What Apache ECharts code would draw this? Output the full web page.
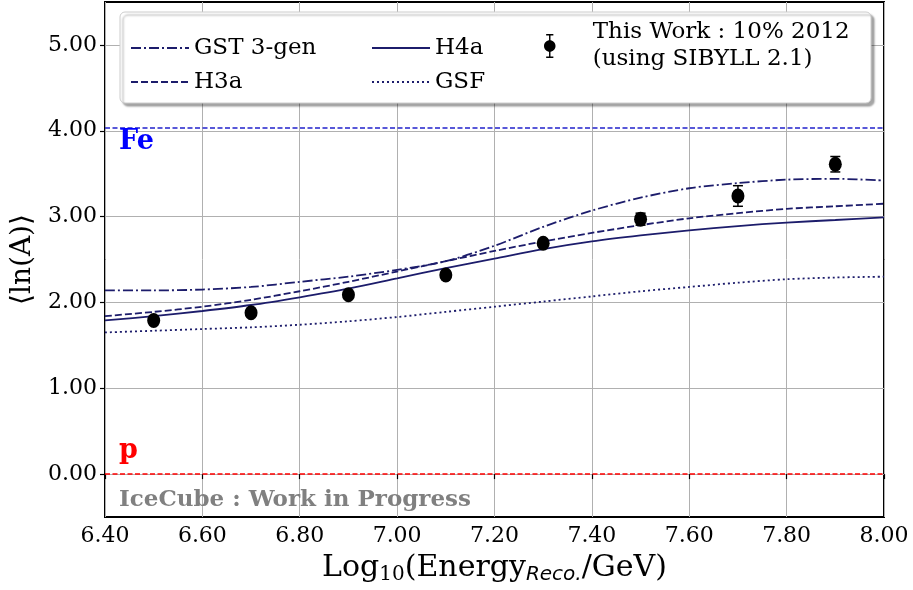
<!DOCTYPE html>
<html>
<head>
<meta charset="utf-8">
<script src="https://cdn.jsdelivr.net/npm/echarts@6/dist/echarts.min.js"></script>
<style>
  html, body { margin: 0; padding: 0; background: #fff; }
  #chart { width: 913px; height: 590px; }
</style>
</head>
<body>
<div id="chart"></div>
<script>
// model curves, sampled every 0.1 in log10(E)
const modelX = [6.4, 6.5, 6.6, 6.7, 6.8, 6.9, 7.0, 7.1, 7.2, 7.3, 7.4, 7.5, 7.6, 7.7, 7.8, 7.9, 8.0]
const gst3gen = [2.14, 2.14, 2.15, 2.18, 2.24, 2.30, 2.38, 2.48, 2.66, 2.88, 3.07, 3.22, 3.33, 3.39, 3.43, 3.44, 3.42]
const h3a = [1.84, 1.89, 1.95, 2.03, 2.13, 2.24, 2.36, 2.48, 2.60, 2.71, 2.81, 2.90, 2.98, 3.04, 3.09, 3.12, 3.15]
const h4a = [1.79, 1.84, 1.90, 1.97, 2.06, 2.16, 2.28, 2.40, 2.51, 2.62, 2.71, 2.78, 2.84, 2.89, 2.93, 2.96, 2.99]
const gsf = [1.65, 1.67, 1.69, 1.71, 1.74, 1.78, 1.83, 1.89, 1.95, 2.01, 2.07, 2.13, 2.18, 2.23, 2.27, 2.29, 2.30]

// measurement
const dataX = [6.5, 6.7, 6.9, 7.1, 7.3, 7.5, 7.7, 7.9]
const dataY = [1.79, 1.88, 2.09, 2.32, 2.69, 2.97, 3.24, 3.61]
const dataErr = [0.03, 0.03, 0.03, 0.04, 0.04, 0.07, 0.12, 0.09]

const feLevel = 4.03
const pLevel = 0
const yTicks = [0, 1, 2, 3, 4, 5]

const navy = '#1c1c6b'
const serif = 'DejaVu Serif'
const dataName = 'This Work : 10% 2012\n(using SIBYLL 2.1)'

const pair = (xs, ys) => xs.map((x, i) => [x, ys[i]])

const chart = echarts.init(document.getElementById('chart'))

function lineSeries(name, values, dash) {
  return {
    name: name,
    type: 'line',
    data: pair(modelX, values),
    smooth: 0.3,
    symbol: 'none',
    z: 3,
    lineStyle: { color: navy, width: 1.8, type: dash },
    itemStyle: { color: navy }
  }
}

const legendText = { fontFamily: serif, fontSize: 23, color: '#000', lineHeight: 24 }
// hide the symbol ECharts puts in the middle of line legend icons
const noDot = { color: 'rgba(0,0,0,0)', borderWidth: 0 }

const option = {
  animation: false,
  grid: {
    left: 105, right: 29, top: 2, bottom: 73,
    outerBoundsMode: 'none',
    show: true, borderColor: '#000', borderWidth: 2
  },
  xAxis: {
    type: 'value',
    min: 6.4,
    max: 8.0,
    interval: 0.2,
    name: '{a|Log}{s|10}{a|(Energy}{i|Reco.}{a|/GeV)}',
    nameLocation: 'middle',
    nameGap: 31,
    nameTextStyle: {
      rich: {
        a: { fontFamily: serif, fontSize: 30, color: '#000', lineHeight: 36 },
        s: { fontFamily: serif, fontSize: 20, color: '#000', lineHeight: 36, padding: [13, 0, 0, 0] },
        i: { fontFamily: 'DejaVu Sans', fontStyle: 'italic', fontSize: 20, color: '#000', lineHeight: 36, padding: [13, 0, 0, 0] }
      }
    },
    axisLine: { show: false },
    axisTick: { show: true, length: 5, lineStyle: { color: '#000', width: 1.2 } },
    axisLabel: { fontFamily: serif, fontSize: 22, color: '#000', margin: 8, formatter: v => v.toFixed(2) },
    splitLine: { show: true, lineStyle: { color: '#b0b0b0', width: 1 } }
  },
  yAxis: {
    type: 'value',
    min: -0.5,
    max: 5.5,
    splitNumber: 6,
    name: '⟨ln(A)⟩',
    nameLocation: 'middle',
    nameGap: 64,
    nameTextStyle: { fontFamily: serif, fontSize: 28, color: '#000' },
    axisLine: { show: false },
    axisTick: { show: true, length: 5, customValues: yTicks, lineStyle: { color: '#000', width: 1.2 } },
    axisLabel: {
      fontFamily: serif, fontSize: 22, color: '#000', margin: 8,
      customValues: yTicks,
      formatter: v => v.toFixed(2)
    },
    splitLine: { show: true, lineStyle: { color: '#b0b0b0', width: 1 } }
  },
  legend: [
    {
      left: 125, top: 31, orient: 'vertical', itemWidth: 58, itemHeight: 14, itemGap: 10,
      textStyle: legendText, z: 20, selectedMode: false, itemStyle: noDot,
      data: ['GST 3-gen', 'H3a']
    },
    {
      left: 366, top: 31, orient: 'vertical', itemWidth: 58, itemHeight: 14, itemGap: 10,
      textStyle: legendText, z: 20, selectedMode: false, itemStyle: noDot,
      data: ['H4a', 'GSF']
    },
    {
      left: 539, top: 14, orient: 'vertical', itemWidth: 22, itemHeight: 24,
      textStyle: Object.assign({}, legendText, { lineHeight: 27, padding: [0, 0, 0, 27] }),
      z: 20, selectedMode: false,
      data: [{
        name: dataName,
        icon: 'path://M7,0h6v1.2h-6z M9.4,0h1.2v20h-1.2z M7,18.8h6v1.2h-6z M10,5.2c2.7,0,4.8,2.1,4.8,4.8s-2.1,4.8-4.8,4.8s-4.8-2.1-4.8-4.8s2.1-4.8,4.8-4.8z',
        itemStyle: { color: '#000' }
      }]
    }
  ],
  graphic: [
    {
      type: 'rect', z: 10,
      shape: { x: 120, y: 12, width: 751, height: 91, r: 5 },
      style: { fill: '#fff', stroke: '#cccccc', lineWidth: 1, shadowBlur: 2, shadowOffsetX: 3, shadowOffsetY: 3, shadowColor: 'rgba(0,0,0,0.35)' }
    },
    { type: 'text', left: 119, top: 128, z: 10, style: { text: 'Fe', fill: '#0000ff', font: 'bold 27px "DejaVu Serif"' } },
    { type: 'text', left: 119, top: 437, z: 10, style: { text: 'p', fill: '#ff0000', font: 'bold 27px "DejaVu Serif"' } },
    { type: 'text', left: 119, top: 489, z: 10, style: { text: 'IceCube : Work in Progress', fill: '#808080', font: 'bold 23px "DejaVu Serif"' } }
  ],
  series: [
    lineSeries('GST 3-gen', gst3gen, [10, 3, 2, 3]),
    lineSeries('H3a', h3a, [7, 3]),
    lineSeries('H4a', h4a, 'solid'),
    lineSeries('GSF', gsf, [2, 3]),
    {
      name: 'levels',
      type: 'line',
      data: [],
      silent: true,
      markLine: {
        symbol: 'none',
        label: { show: false },
        silent: true,
        data: [
          { yAxis: feLevel, lineStyle: { color: '#2222cc', type: [5, 2.5], width: 1.5 } },
          { yAxis: pLevel, lineStyle: { color: '#ff0000', type: [5, 2.5], width: 1.5 } }
        ]
      }
    },
    {
      name: 'errors',
      type: 'custom',
      z: 4,
      data: dataX.map((x, i) => [x, dataY[i] - dataErr[i], dataY[i] + dataErr[i]]),
      renderItem: function (params, api) {
        const lo = api.coord([api.value(0), api.value(1)])
        const hi = api.coord([api.value(0), api.value(2)])
        const cap = 5
        const st = { stroke: '#000', lineWidth: 1.5 }
        return {
          type: 'group',
          children: [
            { type: 'line', shape: { x1: lo[0], y1: lo[1], x2: hi[0], y2: hi[1] }, style: st },
            { type: 'line', shape: { x1: lo[0] - cap, y1: lo[1], x2: lo[0] + cap, y2: lo[1] }, style: st },
            { type: 'line', shape: { x1: hi[0] - cap, y1: hi[1], x2: hi[0] + cap, y2: hi[1] }, style: st }
          ]
        }
      }
    },
    {
      name: dataName,
      type: 'scatter',
      z: 5,
      data: pair(dataX, dataY),
      symbol: 'circle',
      symbolSize: [13, 15],
      itemStyle: { color: '#000', opacity: 1 }
    }
  ]
}

chart.setOption(option)
</script>
</body>
</html>
